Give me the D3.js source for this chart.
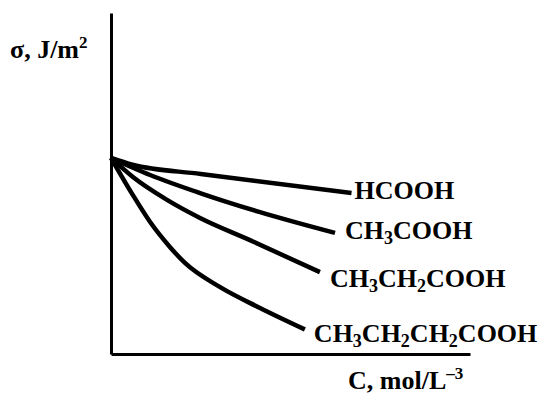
<!DOCTYPE html>
<html>
<head>
<meta charset="utf-8">
<script src="https://cdn.jsdelivr.net/npm/d3@7"></script>
<style>
  body { margin: 0; background: #fff; }
  text { font-family: "Liberation Serif", "Times New Roman", serif; font-weight: bold; fill: #000; }
</style>
</head>
<body>
<script>
// concentration values (arbitrary units)
var cHCOOH = [0, 0.6, 2.5, 6.7];
var sHCOOH = [5.75, 5.55, 5.28, 4.72];

var cAcetic = [0, 1.09, 2.48, 4.15, 6.24];
var sAcetic = [5.75, 5.25, 4.72, 4.16, 3.55];

var cPropionic = [0, 0.61, 1.56, 2.48, 3.87, 5.82];
var sPropionic = [5.75, 5.19, 4.52, 3.99, 3.34, 2.40];

var cButyric = [0, 0.61, 1.09, 1.64, 2.06, 3.04, 4.15, 5.40];
var sButyric = [5.75, 4.66, 3.87, 3.14, 2.67, 1.96, 1.35, 0.72];

// labels: pieces of [text, "sub"/""]
var labels = [
  [["HCOOH", ""]],
  [["CH", ""], ["3", "sub"], ["COOH", ""]],
  [["CH", ""], ["3", "sub"], ["CH", ""], ["2", "sub"], ["COOH", ""]],
  [["CH", ""], ["3", "sub"], ["CH", ""], ["2", "sub"], ["CH", ""], ["2", "sub"], ["COOH", ""]]
];

var series = [
  {c: cHCOOH, s: sHCOOH},
  {c: cAcetic, s: sAcetic},
  {c: cPropionic, s: sPropionic},
  {c: cButyric, s: sButyric}
];

var width = 541, height = 397;

// label offset from the end of each curve (px)
var labelDx = [3, 10, 10, 9];
var labelDy = [6, 6, 15, 13];

var svg = d3.select("body").append("svg")
    .attr("width", width)
    .attr("height", height);

var xScale = d3.scaleLinear().domain([0, 10]).range([111, 470]);
var yScale = d3.scaleLinear().domain([0, 10]).range([354, 13]);

// axes, no ticks
svg.append("g")
    .attr("transform", "translate(0," + yScale(0) + ")")
    .call(d3.axisBottom(xScale).tickValues([]).tickSizeOuter(0))
    .select(".domain").attr("stroke", "#000").attr("stroke-width", 3);

svg.append("g")
    .attr("transform", "translate(" + xScale(0) + ",0)")
    .call(d3.axisLeft(yScale).tickValues([]).tickSizeOuter(0))
    .select(".domain").attr("stroke", "#000").attr("stroke-width", 3);

var line = d3.line()
    .x(function(d) { return xScale(d[0]); })
    .y(function(d) { return yScale(d[1]); })
    .curve(d3.curveMonotoneX);

series.forEach(function(sr, i) {
  var pts = sr.c.map(function(c, j) { return [c, sr.s[j]]; });
  svg.append("path")
      .datum(pts)
      .attr("fill", "none")
      .attr("stroke", "#000")
      .attr("stroke-width", 4.5)
      .attr("stroke-linejoin", "round")
      .attr("d", line);

  var last = pts[pts.length - 1];
  var t = svg.append("text")
      .attr("x", xScale(last[0]) + labelDx[i])
      .attr("y", yScale(last[1]) + labelDy[i])
      .style("font-size", "26px");
  var inSub = false;
  labels[i].forEach(function(p) {
    if (p[1] == "sub") {
      t.append("tspan").attr("dy", 5).style("font-size", "18px").text(p[0]);
      inSub = true;
    } else {
      t.append("tspan").attr("dy", inSub ? -5 : 0).text(p[0]);
      inSub = false;
    }
  });
});

// axis titles
var yt = svg.append("text").attr("x", 10).attr("y", 58).style("font-size", "26px");
yt.append("tspan").text("\u03c3, J/m");
yt.append("tspan").attr("dy", -10).style("font-size", "17px").text("2");

var xt = svg.append("text").attr("x", 348).attr("y", 389).style("font-size", "26px");
xt.append("tspan").text("C, mol/L");
xt.append("tspan").attr("dy", -10).style("font-size", "17px").text("\u20133");
</script>
</body>
</html>
